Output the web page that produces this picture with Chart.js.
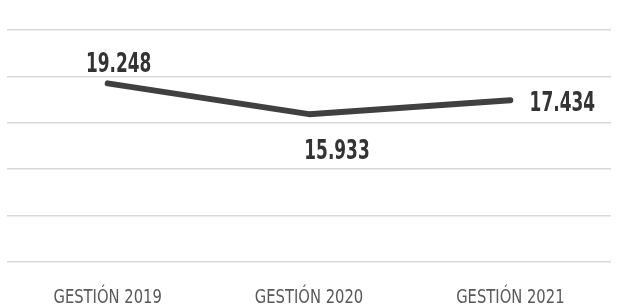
<!DOCTYPE html>
<html>
<head>
<meta charset="utf-8">
<script src="https://cdn.jsdelivr.net/npm/chart.js@4.4.0/dist/chart.umd.min.js"></script>
<style>
    html, body { margin: 0; padding: 0; background: #fff; }
    #wrap { width: 625px; height: 306px; position: relative; }
</style>
</head>
<body>
<div id="wrap"><canvas id="chart"></canvas></div>
<script>
const categories = ['GESTIÓN 2019', 'GESTIÓN 2020', 'GESTIÓN 2021'];
const values = [19.248, 15.933, 17.434];
const valueLabels = ['19.248', '15.933', '17.434'];
const yTicks = [0, 5, 10, 15, 20, 25];

const FONT = "'DejaVu Sans Condensed', 'Liberation Sans Narrow', sans-serif";

// baseline offset of each value label from its point
const labelPlacement = [
    { dx: 11, dy: -11 },
    { dx: 28, dy: 45 },
    { dx: 52, dy: 11 }
];

// draw narrow text (the original uses a condensed face)
function narrowText(ctx, text, x, y, squeeze) {
    ctx.save();
    ctx.translate(x, y);
    ctx.scale(squeeze, 1);
    ctx.fillText(text, 0, 0);
    ctx.restore();
}

const labelsPlugin = {
    id: 'labels',
    afterDatasetsDraw(chart) {
        const ctx = chart.ctx;
        const meta = chart.getDatasetMeta(0);
        const xScale = chart.scales.x;
        ctx.save();
        ctx.textAlign = 'center';
        ctx.textBaseline = 'alphabetic';

        ctx.font = 'bold 26px ' + FONT;
        ctx.fillStyle = '#333333';
        meta.data.forEach((pt, i) => {
            const p = labelPlacement[i];
            narrowText(ctx, valueLabels[i], pt.x + p.dx, pt.y + p.dy, 0.725);
        });

        ctx.font = '20px ' + FONT;
        ctx.fillStyle = '#595959';
        categories.forEach((c, i) => {
            narrowText(ctx, c, xScale.getPixelForTick(i), chart.chartArea.bottom + 41, 0.82);
        });
        ctx.restore();
    }
};

new Chart(document.getElementById('chart'), {
    type: 'line',
    data: {
        labels: categories,
        datasets: [{
            data: values,
            borderColor: '#404040',
            borderWidth: 6,
            borderCapStyle: 'round',
            borderJoinStyle: 'round',
            pointRadius: 0,
            tension: 0,
            fill: false
        }]
    },
    options: {
        responsive: true,
        maintainAspectRatio: false,
        animation: false,
        layout: { padding: { left: 7, right: 14, top: 30, bottom: 0 } },
        plugins: {
            legend: { display: false },
            tooltip: { enabled: false }
        },
        scales: {
            x: {
                offset: true,
                grid: { display: false },
                border: { display: false },
                ticks: { display: false },
                afterFit(scale) { scale.height = 44; }
            },
            y: {
                min: yTicks[0],
                max: yTicks[yTicks.length - 1],
                afterBuildTicks(scale) { scale.ticks = yTicks.map(v => ({ value: v })); },
                grid: { color: '#d9d9d9', lineWidth: 1.5, drawTicks: false },
                border: { display: false },
                ticks: { display: false },
                afterFit(scale) { scale.width = 0; }
            }
        }
    },
    plugins: [labelsPlugin]
});
</script>
</body>
</html>
